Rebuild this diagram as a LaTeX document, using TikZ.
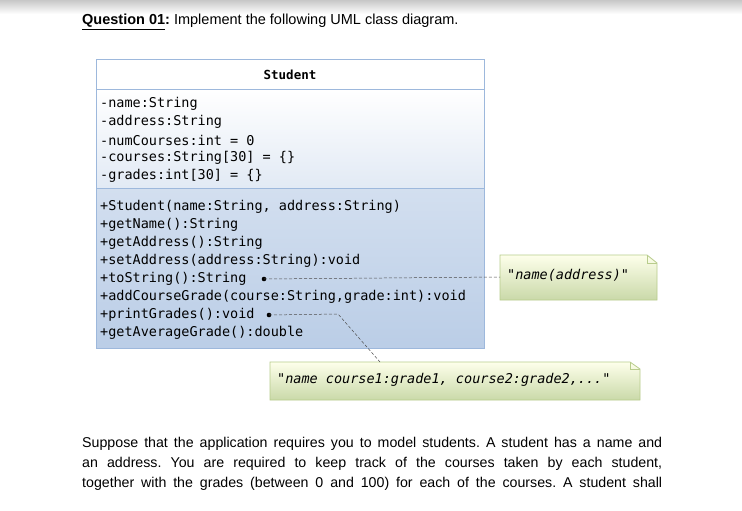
\documentclass[tikz,border=0pt]{standalone}
\usepackage{fontspec}
\setmainfont{Liberation Sans}
\newfontfamily\codefont{DejaVu Sans Mono}
\usetikzlibrary{calc}
\definecolor{umlborder}{HTML}{9DB8DC}
\definecolor{notebord}{HTML}{B8CC8C}
\tikzset{
  code/.style={anchor=west,inner sep=0pt,font=\codefont\fontsize{13.5}{15}\selectfont},
  conn/.style={densely dashed,draw=black!70,line width=0.5pt},
}
\begin{document}
\frenchspacing
\begin{tikzpicture}[x=1pt,y=-1pt]
\useasboundingbox (0,0) rectangle (742,511);
\fill[white] (0,0) rectangle (742,511);
\shade[top color=black!22,bottom color=white] (0,0) rectangle (742,14);
\node[anchor=west,inner sep=0pt,font=\fontsize{14.5}{16}\selectfont] (title) at (82,22) {\underline{\textbf{Question 01}}\textbf{:} Implement the following UML class diagram.};
% class box
\fill[white] (96,60) rectangle (484,90);
\shade[top color=white,bottom color=umlborder!30] (96,90) rectangle (484,188);
\shade[top color=umlborder!45,bottom color=umlborder!70] (96,188) rectangle (484,348);
\draw[umlborder,line width=1pt] (96,60) rectangle (484,348);
\draw[umlborder,line width=1pt] (96,90) -- (484,90) (96,188) -- (484,188);
\node[code,anchor=center,font=\codefont\bfseries\fontsize{12.5}{14}\selectfont] (cls) at (290,75) {Student};
\node[code] (a1) at (100,104) {-name:String};
\node[code] (a2) at (100,122) {-address:String};
\node[code] (a3) at (100,140) {-numCourses:int = 0};
\node[code] (a4) at (100,158) {-courses:String[30] = \{\}};
\node[code] (a5) at (100,176) {-grades:int[30] = \{\}};
\node[code] (m1) at (100,207) {+Student(name:String, address:String)};
\node[code] (m2) at (100,225) {+getName():String};
\node[code] (m3) at (100,243) {+getAddress():String};
\node[code] (m4) at (100,261) {+setAddress(address:String):void};
\node[code] (m5) at (100,279) {+toString():String};
\node[code] (m6) at (100,297) {+addCourseGrade(course:String,grade:int):void};
\node[code] (m7) at (100,315) {+printGrades():void};
\node[code] (m8) at (100,333) {+getAverageGrade():double};
% notes
\shade[top color=green!8!yellow!8!white,bottom color=notebord!75,draw=notebord,line width=0.8pt]
  (500,255) -- (647,255) -- (657,263) -- (657,300) -- (500,300) -- cycle;
\draw[notebord,line width=0.8pt] (647,255) -- (647,263) -- (657,263);
\node[code,font=\codefont\itshape\fontsize{13.5}{15}\selectfont] (n1) at (507,275) {"name(address)"};
\shade[top color=green!8!yellow!8!white,bottom color=notebord!75,draw=notebord,line width=0.8pt]
  (270,362) -- (630,362) -- (640,369) -- (640,400) -- (270,400) -- cycle;
\draw[notebord,line width=0.8pt] (630,362) -- (630,369) -- (640,369);
\node[code,font=\codefont\itshape\fontsize{13.5}{15}\selectfont] (n2) at (277,380) {"name course1:grade1, course2:grade2,..."};
% connectors
\coordinate (d1) at (264,279);
\coordinate (d2) at (269,315);
\coordinate (e1) at (500,277);
\coordinate (k2) at (338,314);
\coordinate (e2) at (380,362);
\fill (d1) circle (2.3);
\fill (d2) circle (2.3);
\draw[conn] (d1) -- (e1);
\draw[conn] (d2) -- (k2) -- (e2);
% paragraph
\node[anchor=north west,inner sep=0pt,text width=580pt,align=justify,font=\fontsize{14.2}{20}\selectfont] (para) at (82,437)
{Suppose that the application requires you to model students. A student has a name and\linebreak an address. You are required to keep track of the courses taken by each student,\linebreak together with the grades (between 0 and 100) for each of the courses. A student shall\linebreak};
\end{tikzpicture}
\end{document}
